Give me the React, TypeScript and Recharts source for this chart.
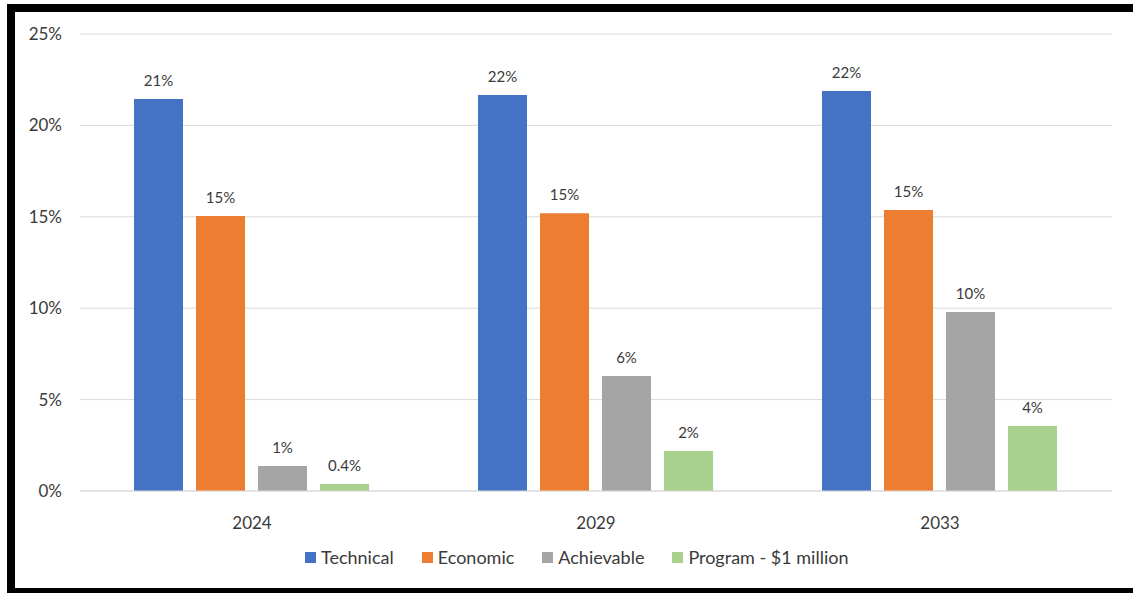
import { BarChart, Bar, XAxis, YAxis, CartesianGrid, Legend, LabelList } from "recharts";

const years = ["2024", "2029", "2033"];
const technical = [21.44, 21.66, 21.88];
const economic = [15.04, 15.2, 15.37];
const achievable = [1.37, 6.29, 9.79];
const program = [0.38, 2.19, 3.56];
const yTicks = [0, 5, 10, 15, 20, 25];

const series = [
  { key: "technical", name: "Technical", color: "#4472C4" },
  { key: "economic", name: "Economic", color: "#ED7D31" },
  { key: "achievable", name: "Achievable", color: "#A5A5A5" },
  { key: "program", name: "Program - $1 million", color: "#A9D18E" },
];

const data = years.map((year, i) => ({
  year,
  technical: technical[i],
  economic: economic[i],
  achievable: achievable[i],
  program: program[i],
}));

const FONT = "Lato, 'Open Sans', sans-serif";
const TEXT = "#3a3a3a";

const fmtLabel = (v: any) => {
  const n = Number(v);
  return n < 1 ? `${n.toFixed(1)}%` : `${Math.round(n)}%`;
};

function LegendContent() {
  return (
    <div style={{ display: "flex", justifyContent: "flex-start", fontFamily: FONT, fontSize: 18, color: TEXT, paddingLeft: 305 }}>
      {series.map((s) => (
        <div key={s.key} style={{ display: "flex", alignItems: "center", marginRight: 28 }}>
          <span style={{ width: 11, height: 11, background: s.color, display: "inline-block", marginRight: 5 }} />
          <span>{s.name}</span>
        </div>
      ))}
    </div>
  );
}

export default function App() {
  return (
    <div style={{ position: "absolute", left: 0, top: 0, width: 1133, height: 593, background: "#fff", overflow: "hidden" }}>
      <div
        style={{
          position: "absolute",
          left: 7,
          top: 4,
          width: 1160,
          height: 592,
          border: "8px solid #000",
          boxSizing: "border-box",
        }}
      />
      <div style={{ position: "absolute", left: 0, top: 0 }}>
        <BarChart
          width={1133}
          height={593}
          data={data}
          margin={{ top: 34, right: 21, bottom: 0, left: 0 }}
          barCategoryGap={54}
          barGap={13}
        >
          <CartesianGrid vertical={false} stroke="#d9d9d9" />
          <XAxis
            dataKey="year"
            axisLine={{ stroke: "#d9d9d9" }}
            tickLine={false}
            tickMargin={20}
            height={46}
            tick={{ fontFamily: FONT, fontSize: 17, fill: TEXT }}
          />
          <YAxis
            width={80}
            domain={[0, 25]}
            ticks={yTicks}
            axisLine={false}
            tickLine={false}
            tickMargin={12}
            tickFormatter={(v) => `${v}%`}
            tick={{ fontFamily: FONT, fontSize: 17, fill: TEXT }}
          />
          <Legend
            verticalAlign="bottom"
            height={56}
            content={<LegendContent />}
            wrapperStyle={{ top: 546, bottom: "auto", left: 0, width: 1133 }}
          />
          {series.map((s) => (
            <Bar key={s.key} dataKey={s.key} name={s.name} fill={s.color} isAnimationActive={false}>
              <LabelList
                dataKey={s.key}
                position="top"
                offset={13}
                formatter={fmtLabel}
                style={{ fontFamily: FONT, fontSize: 15, fill: TEXT }}
              />
            </Bar>
          ))}
        </BarChart>
      </div>
    </div>
  );
}
